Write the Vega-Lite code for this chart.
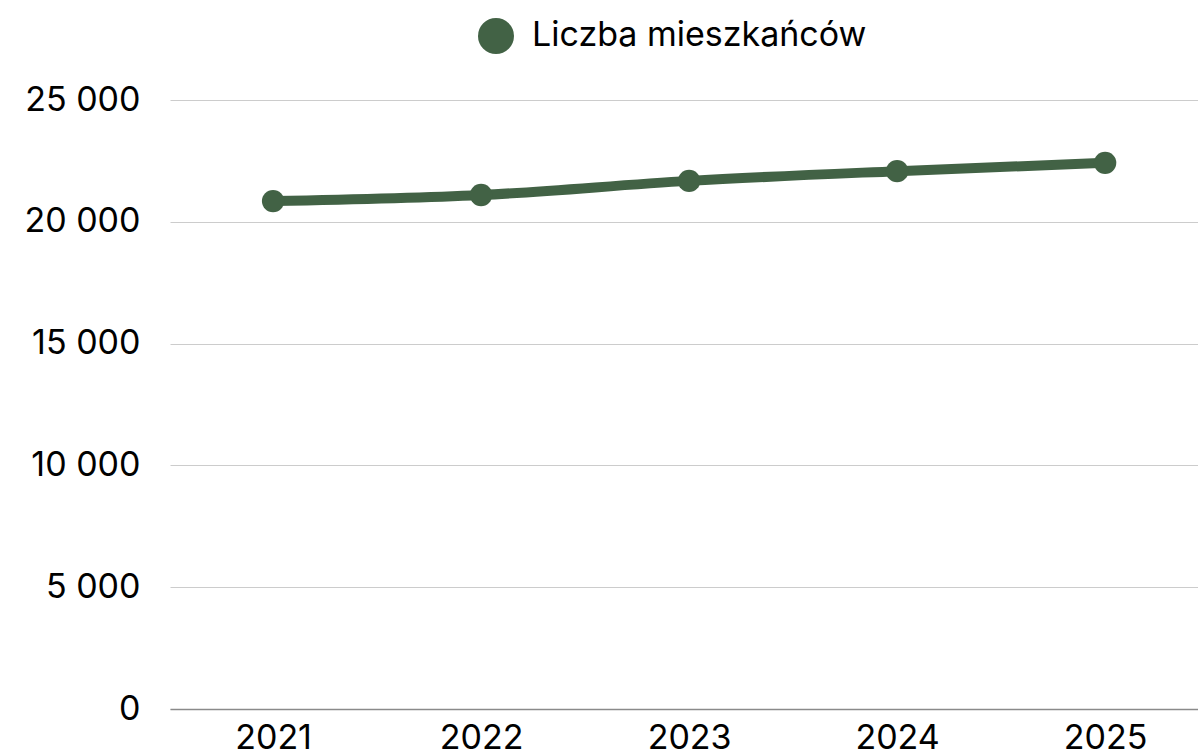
{
  "$schema": "https://vega.github.io/schema/vega-lite/v6.json",
  "autosize": "none",
  "padding": {"left": 170, "top": 100, "right": 0, "bottom": 47},
  "width": 1028,
  "height": 609,
  "background": "white",
  "config": {
    "font": "Inter",
    "view": {"stroke": null},
    "locale": {"number": {"decimal": ",", "thousands": " ", "grouping": [3], "currency": ["", " zł"]}}
  },
  "data": {
    "values": [
      {"rok": "2021", "wartosc": 20850, "seria": "Liczba mieszkańców"},
      {"rok": "2022", "wartosc": 21100, "seria": "Liczba mieszkańców"},
      {"rok": "2023", "wartosc": 21680, "seria": "Liczba mieszkańców"},
      {"rok": "2024", "wartosc": 22080, "seria": "Liczba mieszkańców"},
      {"rok": "2025", "wartosc": 22420, "seria": "Liczba mieszkańców"}
    ]
  },
  "encoding": {
    "x": {
      "field": "rok", "type": "ordinal",
      "scale": {"type": "point", "padding": 0.471, "align": 0.526},
      "axis": {
        "title": null, "labelAngle": 0, "labelFontSize": 34, "labelColor": "#000000",
        "labelFont": "Inter", "labelPadding": 12, "ticks": false,
        "domain": true, "domainColor": "#8a8a8a", "domainWidth": 1.5, "grid": false
      }
    },
    "y": {
      "field": "wartosc", "type": "quantitative",
      "scale": {"domain": [0, 25000], "nice": false},
      "axis": {
        "title": null, "values": [0, 5000, 10000, 15000, 20000, 25000], "format": ",d",
        "labelFontSize": 34, "labelColor": "#000000", "labelFont": "Inter", "labelPadding": 30,
        "ticks": false, "domain": false, "grid": true, "gridColor": "#cccccc", "gridWidth": 1
      }
    },
    "color": {
      "field": "seria", "type": "nominal",
      "scale": {"range": ["#426245"]},
      "legend": {
        "title": null, "orient": "none", "legendX": 308, "legendY": -82, "direction": "horizontal",
        "symbolType": "circle", "symbolSize": 1296, "symbolStrokeWidth": 0,
        "labelFontSize": 34, "labelColor": "#000000", "labelFont": "Inter", "labelOffset": 18,
        "labelLimit": 700
      }
    }
  },
  "layer": [
    {"mark": {"type": "line", "strokeWidth": 10, "interpolate": "monotone"}},
    {"mark": {"type": "point", "filled": true, "size": 500, "opacity": 1}}
  ]
}
